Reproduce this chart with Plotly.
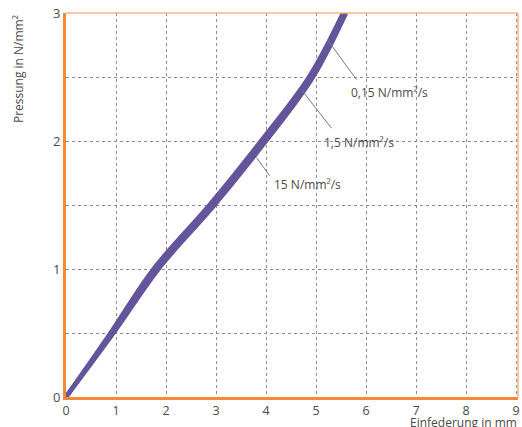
import plotly.graph_objects as go

# Data
pressure = [0, 0.5, 1.0, 1.5, 2.0, 2.5, 3.0]            # N/mm²
defl_15 = [0, 0.89, 1.75, 2.87, 3.90, 4.86, 5.54]       # 15 N/mm²/s
defl_1_5 = [0, 0.92, 1.80, 2.92, 3.95, 4.90, 5.57]      # 1,5 N/mm²/s
defl_0_15 = [0, 0.95, 1.85, 2.97, 4.00, 4.94, 5.60]     # 0,15 N/mm²/s
series_names = ["15 N/mm²/s", "1,5 N/mm²/s", "0,15 N/mm²/s"]
x_ticks = [0, 1, 2, 3, 4, 5, 6, 7, 8, 9]
y_ticks = [0, 1, 2, 3]

# label positions (data coords): leader start, leader end, text anchor
labels = [
    ("0,15 N/mm²/s", (5.23, 2.79), (5.81, 2.48), (5.65, 2.38)),
    ("1,5 N/mm²/s", (4.71, 2.40), (5.31, 2.10), (5.11, 1.99)),
    ("15 N/mm²/s", (3.81, 1.87), (4.07, 1.73), (4.11, 1.66)),
]

PURPLE = "#64559B"
ORANGE = "#F7893B"
LIGHT_ORANGE = "#F9B483"
TEXT = "#4a4a4a"
FONT = "Open Sans"

fig = go.Figure()
for xs, name in zip([defl_15, defl_1_5, defl_0_15], series_names):
    fig.add_trace(go.Scatter(
        x=xs, y=pressure, mode="lines", name=name,
        line=dict(color=PURPLE, width=4.5, shape="spline", smoothing=1.0),
        showlegend=False, hoverinfo="skip",
    ))

shapes = []
annotations = []
for text, (x0, y0), (x1, y1), (tx, ty) in labels:
    shapes.append(dict(type="line", xref="x", yref="y", x0=x0, y0=y0, x1=x1, y1=y1,
                       line=dict(color="#777777", width=1), layer="above"))
    annotations.append(dict(text=text, x=tx, y=ty, xref="x", yref="y",
                            xanchor="left", yanchor="middle", showarrow=False,
                            font=dict(family=FONT, size=12, color=TEXT)))

# top and right frame lines (lighter orange)
shapes.append(dict(type="line", xref="paper", yref="paper", x0=0, y0=1, x1=1, y1=1,
                   line=dict(color=LIGHT_ORANGE, width=1.5), layer="above"))
shapes.append(dict(type="line", xref="paper", yref="paper", x0=1, y0=0, x1=1, y1=1,
                   line=dict(color=LIGHT_ORANGE, width=1.5), layer="above"))

# axis titles
annotations.append(dict(text="Pressung in N/mm²", xref="paper", yref="paper",
                        x=-0.106, y=1.0, xanchor="center", yanchor="top",
                        textangle=-90, showarrow=False,
                        font=dict(family=FONT, size=12, color=TEXT)))
annotations.append(dict(text="Einfederung in mm", xref="paper", yref="paper",
                        x=1.0, y=-0.092, xanchor="right", yanchor="bottom",
                        showarrow=False, borderpad=0,
                        font=dict(family=FONT, size=12, color=TEXT)))

fig.update_layout(
    width=522, height=427,
    margin=dict(l=66, r=2, t=13, b=30),
    paper_bgcolor="white", plot_bgcolor="white",
    shapes=shapes, annotations=annotations,
    font=dict(family=FONT, size=13, color=TEXT),
    xaxis=dict(range=[0, 9.04], tickvals=x_ticks, ticktext=[str(v) for v in x_ticks],
               showgrid=True, gridcolor="#8c8c8c", griddash="3px,3px", gridwidth=1,
               showline=True, linecolor=ORANGE, linewidth=3, zeroline=False,
               ticks="", tickfont=dict(family=FONT, size=12.5, color=TEXT)),
    yaxis=dict(range=[0, 3.0], tickvals=y_ticks, ticktext=[str(v) for v in y_ticks],
               showgrid=True, gridcolor="#8c8c8c", griddash="3px,3px", gridwidth=1,
               showline=True, linecolor=ORANGE, linewidth=3, zeroline=False,
               ticks="", tickfont=dict(family=FONT, size=13, color=TEXT)),
)
# minor gridlines every 0.5 on y
fig.update_yaxes(minor=dict(tickvals=[0.5, 1.5, 2.5], showgrid=True, gridcolor="#8c8c8c",
                            griddash="3px,3px", gridwidth=1, ticks=""))

fig.write_html("out.html", config={"displayModeBar": False},
               post_script="document.body.style.margin='0px';")
